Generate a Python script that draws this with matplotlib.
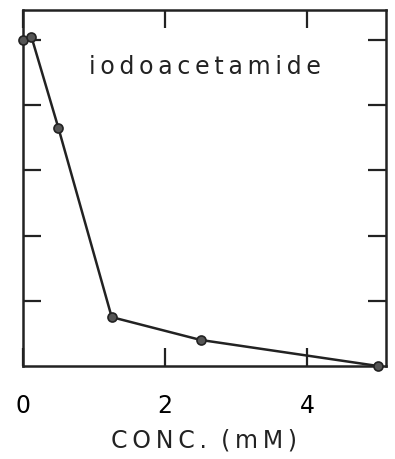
import matplotlib.pyplot as plt
import numpy as np

# activity remaining vs inhibitor concentration
conc = [0.0, 0.12, 0.5, 1.25, 2.5, 5.0]
activity = [100, 101, 73, 15, 8, 0]

xticks = [0, 2, 4]
yticks = [1, 2, 3, 4, 5]

fig = plt.figure(figsize=(3.95, 4.59), dpi=100)
ax = fig.add_axes([0.058, 0.2026, 0.919, 0.7755])

ax.plot(conc, np.array(activity) / 20.0, color='#222222', lw=1.8,
        marker='o', ms=6.5, mfc='#555555', mec='#222222', mew=1.2, clip_on=False, zorder=3)

ax.set_xlim(0, 5.11)
ax.set_ylim(0, 5.46)
ax.set_xticks(xticks)
ax.set_xticklabels([str(t) for t in xticks])
ax.set_yticks(yticks)
ax.set_yticklabels([])

ax.tick_params(axis='both', direction='in', length=13, width=1.6, color='#222222',
               top=True, right=True, labelsize=17, pad=20)
for s in ax.spines.values():
    s.set_linewidth(1.8)
    s.set_color('#222222')

ts = '\u2009'
ax.set_xlabel(ts.join('CONC.') + ts * 3 + ts.join('(mM)'), fontsize=17, labelpad=8,
              color='#222222')
ax.text(2.56, 4.58, ts.join('iodoacetamide'), fontsize=17, ha='center', va='center',
        color='#222222')

fig.savefig('out.png', dpi=100)
